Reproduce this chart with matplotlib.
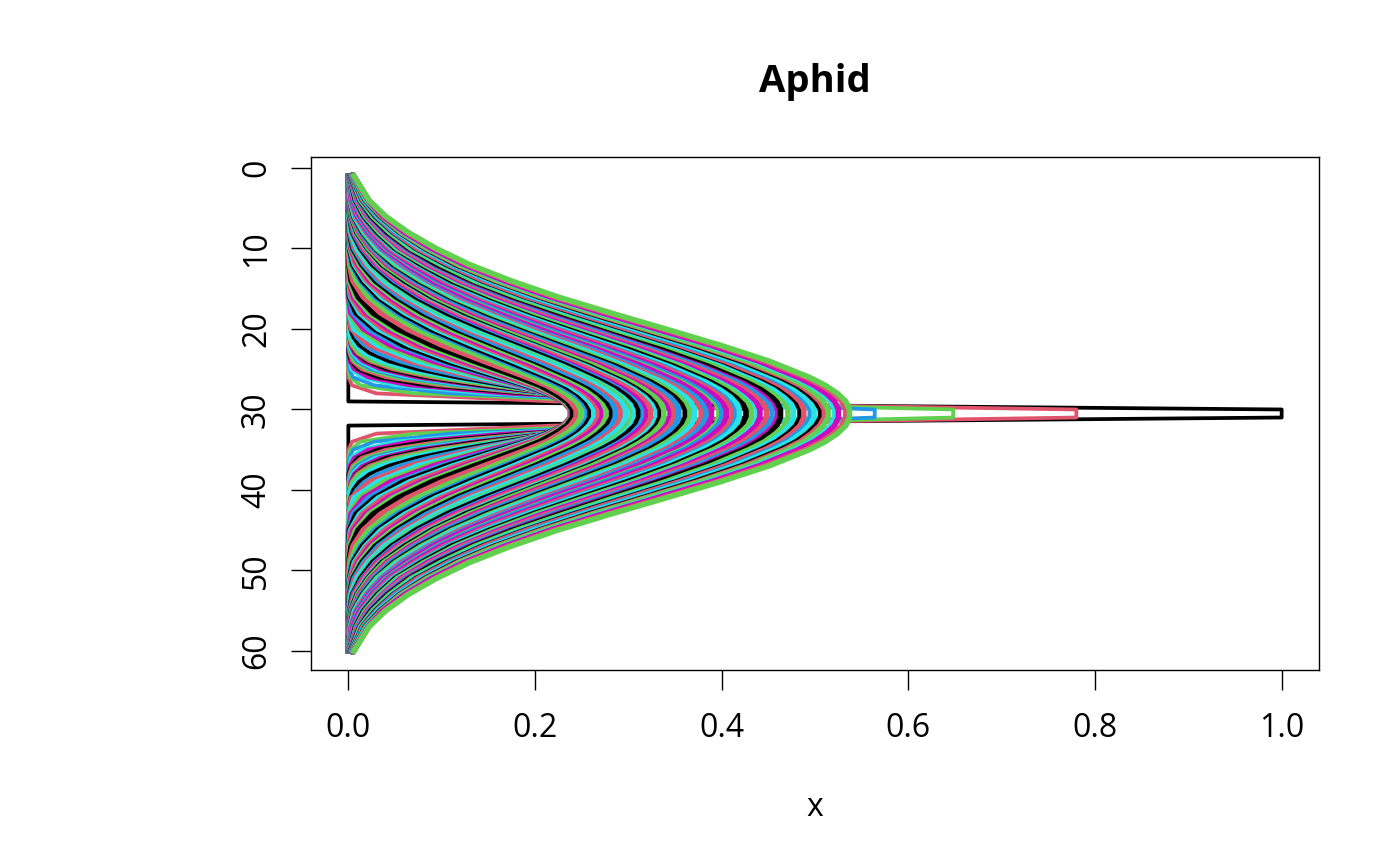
import matplotlib
matplotlib.use("Agg")
import matplotlib.pyplot as plt

plt.rcParams['font.family'] = ['Open Sans', 'DejaVu Sans']

# R default palette, one colour per curve in turn
palette = ["#000000", "#DF536B", "#61D04F", "#2297E6", "#28E2E5", "#CD0BBC"]

# first curves, one value per row from y=30 upward (zero after that up to y=1)
early_y = list(range(30, 0, -1))
early_t = [0, 1, 2, 3, 4, 5, 6, 7, 8, 9, 10, 11, 12, 13, 14, 16, 18, 21]
early_x = [
    [1.0, 0],
    [.78, .22, .03, .004],
    [.648, .29, .07, .013, .002],
    [.564, .33, .11, .028, .005, .001],
    [.505, .33, .145, .05, .014, .003, .001],
    [.462, .33, .165, .065, .021, .006, .001],
    [.428, .325, .185, .082, .031, .01, .003],
    [.405, .318, .195, .097, .04, .014, .004, .001],
    [.387, .312, .2, .108, .049, .019, .006, .002],
    [.37, .306, .205, .118, .058, .024, .009, .003, .001],
    [.355, .30, .21, .126, .065, .029, .012, .004, .001],
    [.344, .295, .213, .133, .072, .034, .015, .006, .002, .001],
    [.332, .288, .214, .139, .08, .04, .019, .008, .003, .001],
    [.323, .282, .216, .148, .088, .047, .022, .009, .003, .001],
    [.312, .274, .218, .153, .095, .053, .026, .011, .004, .001],
    [.299, .266, .218, .16, .105, .062, .033, .016, .007, .002, .001],
    [.287, .259, .216, .165, .115, .0735, .043, .0229, .0112, .005, .002, .0007, .0002],
    [.271, .251, .215, .171, .125, .085, .0534, .0311, .0168, .0084, .0038, .0016, .0006, .0002],
]

# later curves, half profile at these rows
late_y = [30, 29, 28, 27, 26, 24, 22, 20, 18, 16, 14, 12, 10, 8, 6, 4, 1]
late_t = [200, 199, 197, 196, 194, 193, 192, 190, 189, 187, 186, 184, 182, 180,
          179, 177, 175, 173, 172, 170, 168, 166, 165, 163, 161, 159, 158, 155,
          153, 151, 148, 146, 144, 141, 139, 137, 134, 132, 130, 127, 125, 123,
          120, 118, 116, 112, 109, 105, 102, 98, 95, 91, 88, 84, 81, 74, 67, 60,
          56, 53, 49, 46, 42, 39, 35, 32, 28, 25]
# the rows next to the peak, same order as late_t
late_x29 = [.533, .529, .521, .517, .509, .505, .501, .494, .490, .484, .480, .473, .467, .459,
            .456, .450, .444, .437, .434, .428, .422, .415, .412, .407, .401, .396, .393, .385,
            .379, .374, .367, .362, .357, .350, .345, .341, .334, .330, .326, .320, .316, .312,
            .307, .303, .300, .293, .288, .282, .277, .272, .267, .263, .258, .254, .251, .244,
            .238, .234, .232, .231, .230, .230, .230, .231, .233, .235, .239, .244]
late_x27 = [.511, .507, .499, .495, .488, .484, .480, .473, .469, .463, .459, .452, .446, .439,
            .435, .429, .423, .416, .413, .407, .402, .395, .392, .387, .380, .375, .372, .365,
            .359, .354, .347, .342, .337, .330, .325, .321, .314, .310, .306, .300, .295, .292,
            .286, .283, .279, .272, .267, .261, .256, .250, .245, .241, .236, .231, .227, .218,
            .212, .205, .201, .199, .196, .193, .191, .189, .186, .185, .182, .180]
# y = 30, 28, 26, 24, 22, 20, 18, 16, 14, 12, 10, 8, 6, 4, 1
late_x = [
    [.537, .524, .494, .451, .398, .340, .281, .224, .174, .130, .094, .064, .040, .022, .006],
    [.533, .520, .490, .447, .395, .337, .278, .221, .172, .128, .093, .063, .039, .022, .006],
    [.525, .512, .482, .440, .388, .330, .272, .216, .167, .124, .089, .060, .037, .021, .0055],
    [.521, .508, .478, .436, .384, .327, .269, .214, .165, .123, .088, .059, .037, .020, .0053],
    [.514, .500, .471, .429, .377, .320, .263, .209, .160, .119, .085, .057, .036, .019, .005],
    [.510, .496, .467, .425, .374, .317, .260, .206, .158, .117, .0835, .056, .035, .019, .005],
    [.506, .492, .463, .421, .370, .314, .257, .204, .156, .115, .082, .055, .034, .018, .0048],
    [.499, .485, .456, .414, .364, .308, .252, .199, .152, .112, .079, .053, .032, .017, .0043],
    [.495, .481, .452, .411, .360, .305, .249, .196, .150, .110, .078, .051, .031, .0167, .0041],
    [.488, .475, .446, .404, .354, .299, .244, .191, .145, .107, .074, .049, .030, .0155, .0037],
    [.484, .471, .442, .401, .351, .296, .241, .189, .143, .105, .0726, .048, .029, .015, .0035],
    [.477, .464, .436, .395, .345, .290, .236, .185, .139, .102, .070, .046, .028, .014, .0032],
    [.471, .458, .429, .388, .339, .284, .231, .180, .135, .099, .067, .044, .026, .013, .003],
    [.463, .451, .423, .381, .332, .279, .226, .176, .132, .095, .065, .042, .0245, .0125, .0026],
    [.460, .447, .419, .378, .329, .276, .223, .174, .130, .094, .0634, .041, .024, .012, .0025],
    [.454, .441, .413, .372, .323, .270, .218, .170, .126, .091, .061, .039, .0225, .011, .0023],
    [.448, .435, .407, .366, .318, .265, .213, .165, .122, .088, .058, .037, .021, .010, .0021],
    [.441, .428, .400, .360, .312, .260, .208, .161, .119, .085, .056, .036, .020, .0095, .0019],
    [.438, .425, .397, .357, .309, .257, .206, .159, .117, .0838, .0546, .035, .0195, .009, .0018],
    [.432, .419, .391, .351, .304, .252, .201, .155, .114, .081, .052, .033, .018, .0085, .0016],
    [.426, .414, .386, .346, .298, .247, .197, .151, .110, .078, .050, .031, .0165, .0075, .0014],
    [.419, .407, .379, .340, .293, .242, .192, .147, .108, .076, .048, .030, .0155, .007, .0013],
    [.416, .404, .376, .337, .290, .239, .190, .145, .106, .0746, .047, .029, .015, .0065, .0012],
    [.411, .399, .371, .332, .285, .234, .186, .141, .103, .072, .045, .027, .014, .006, .0011],
    [.405, .392, .365, .326, .280, .229, .182, .138, .099, .069, .043, .0255, .0125, .005, .001],
    [.400, .387, .360, .321, .275, .224, .177, .134, .096, .067, .0415, .024, .0115, .0045, .0009],
    [.397, .384, .357, .318, .272, .222, .175, .132, .095, .0657, .0406, .0236, .011, .0042, .0008],
    [.389, .377, .349, .310, .265, .215, .169, .126, .090, .0617, .038, .0217, .0097, .0035, .0007],
    [.383, .371, .344, .305, .260, .211, .165, .123, .087, .059, .036, .0205, .009, .0032, .0006],
    [.378, .366, .339, .300, .255, .206, .161, .119, .0848, .0565, .0346, .0192, .0081, .0028, .0006],
    [.371, .359, .332, .293, .248, .200, .155, .114, .081, .053, .032, .0175, .007, .0024, .0005],
    [.366, .354, .327, .289, .243, .196, .151, .111, .078, .0505, .030, .0163, .0063, .0021, .0004],
    [.361, .349, .322, .284, .238, .192, .147, .108, .0752, .0483, .0289, .0152, .0057, .0019, .0004],
    [.354, .342, .315, .277, .232, .186, .141, .103, .071, .045, .0265, .0135, .005, .0015, .0004],
    [.349, .337, .310, .273, .227, .181, .138, .100, .069, .043, .025, .0125, .0045, .0013, .0003],
    [.345, .333, .306, .268, .223, .177, .134, .0968, .0664, .0413, .0238, .0116, .0041, .0012, .0003],
    [.338, .326, .299, .261, .216, .171, .129, .092, .063, .038, .0217, .010, .0033, .001, .0003],
    [.334, .322, .295, .257, .213, .168, .125, .089, .060, .036, .0205, .009, .0028, .0009, .0002],
    [.330, .318, .291, .253, .209, .164, .122, .0865, .0582, .0346, .0192, .0079, .0025, .0008, .0002],
    [.324, .312, .284, .246, .203, .158, .117, .082, .054, .032, .017, .0066, .0021, .0006, .0002],
    [.320, .307, .280, .242, .199, .155, .114, .079, .052, .0305, .016, .0059, .0019, .0005, .0001],
    [.316, .304, .276, .238, .195, .151, .111, .0767, .0494, .029, .0149, .0052, .0017, .0005, .0001],
    [.311, .298, .270, .232, .189, .145, .105, .072, .046, .026, .013, .0043, .0013, .0004, .0001],
    [.307, .295, .267, .228, .186, .141, .102, .070, .044, .0245, .012, .0038, .0011, .0003, .0001],
    [.304, .291, .263, .225, .182, .138, .0995, .0676, .0422, .0235, .0113, .0034, .001, .0003, .0001],
    [.297, .284, .256, .218, .175, .131, .0935, .063, .038, .021, .009, .0027, .0008, .0002, .0001],
    [.292, .279, .251, .212, .169, .126, .0892, .0591, .0351, .0189, .0074, .0022, .0007, .0002, .0001],
    [.286, .273, .244, .205, .162, .120, .084, .055, .032, .0165, .006, .0017, .0005, .0001, .0001],
    [.282, .268, .239, .200, .157, .115, .0793, .0511, .0288, .0144, .0047, .0012, .0004, .0001, .0001],
    [.276, .263, .233, .194, .150, .109, .074, .047, .0255, .012, .0037, .0009, .0003, .0001, 0],
    [.272, .258, .228, .189, .145, .104, .0698, .0436, .0229, .0105, .0029, .0007, .0002, .0001, 0],
    [.268, .254, .223, .183, .140, .099, .065, .039, .020, .008, .0023, .0005, .0001, 0, 0],
    [.263, .249, .218, .177, .134, .0934, .0607, .0349, .0179, .0065, .0018, .0004, .0001, 0, 0],
    [.259, .245, .213, .171, .128, .088, .056, .0315, .015, .005, .0013, .0003, .0001, 0, 0],
    [.256, .241, .208, .166, .123, .0831, .0518, .0282, .013, .0037, .0009, .0002, .0001, 0, 0],
    [.249, .233, .199, .156, .112, .073, .0435, .0217, .0086, .0021, .0005, .0001, 0, 0, 0],
    [.244, .227, .191, .145, .100, .0629, .0344, .0159, .0047, .001, .0002, 0, 0, 0, 0],
    [.240, .221, .183, .135, .0892, .0529, .0263, .0104, .0029, .0005, .0001, 0, 0, 0, 0],
    [.239, .2187, .178, .1286, .0828, .0472, .022, .0076, .0013, .0002, .0001, 0, 0, 0, 0],
    [.238, .217, .175, .124, .0778, .043, .0189, .0055, .0012, .0002, 0, 0, 0, 0, 0],
    [.238, .215, .17, .1173, .0709, .0374, .015, .0033, .0007, .0001, 0, 0, 0, 0, 0],
    [.238, .214, .166, .112, .0656, .0319, .012, .0022, .0004, .0001, 0, 0, 0, 0, 0],
    [.239, .2127, .1617, .1051, .0584, .0278, .0081, .0012, .0002, 0, 0, 0, 0, 0, 0],
    [.241, .212, .158, .0993, .0528, .0216, .005, .0008, .0001, 0, 0, 0, 0, 0, 0],
    [.244, .212, .1525, .091, .0451, .0163, .0027, .0004, .0001, 0, 0, 0, 0, 0, 0],
    [.247, .212, .148, .0843, .0382, .0118, .0014, .0002, 0, 0, 0, 0, 0, 0, 0],
    [.253, .212, .141, .0743, .031, .006, .0008, .0001, 0, 0, 0, 0, 0, 0, 0],
    [.260, .213, .135, .066, .0226, .0032, .0004, .0001, 0, 0, 0, 0, 0, 0, 0],
]

x_ticks = [0, .2, .4, .6, .8, 1]
y_ticks = [0, 10, 20, 30, 40, 50, 60]

curves = []
for t, row in zip(early_t, early_x):
    curves.append((t, row + [0] * (len(early_y) - len(row)), early_y, 2.7))
for t, row, r29, r27 in zip(late_t, late_x, late_x29, late_x27):
    curves.append((t, [row[0], r29, row[1], r27] + row[2:], late_y, 4))
curves.sort(key=lambda c: c[0])

fig = plt.figure(figsize=(14, 8.66), dpi=100)
ax = fig.add_axes([311 / 1400, 1 - 670 / 866, 1008 / 1400, 513 / 866])

# top half is typed, the picture is symmetric round y=30.5
for t, row, ys, width in curves:
    xs = row[::-1] + row
    yy = ys[::-1] + [61 - y for y in ys]
    ax.plot(xs, yy, color=palette[t % 6], lw=width, solid_joinstyle='round')

ax.set_xlim(-0.04, 1.04)
ax.set_ylim(62.36, -1.36)
ax.set_xticks(x_ticks, [f"{v:.1f}" for v in x_ticks])
ax.set_yticks(y_ticks, [str(v) for v in y_ticks])
ax.tick_params(length=14.4, width=1, labelsize=23)
ax.tick_params(axis='x', pad=16)
ax.tick_params(axis='y', pad=13, labelrotation=90)
for lab in ax.get_yticklabels():
    lab.set_va('center')
for side in ax.spines.values():
    side.set_linewidth(1)

ax.set_xlabel("x", fontsize=23, labelpad=33)
ax.set_title("Aphid", fontsize=27.5, fontweight='bold', pad=47)

fig.savefig("out.png", dpi=100)
